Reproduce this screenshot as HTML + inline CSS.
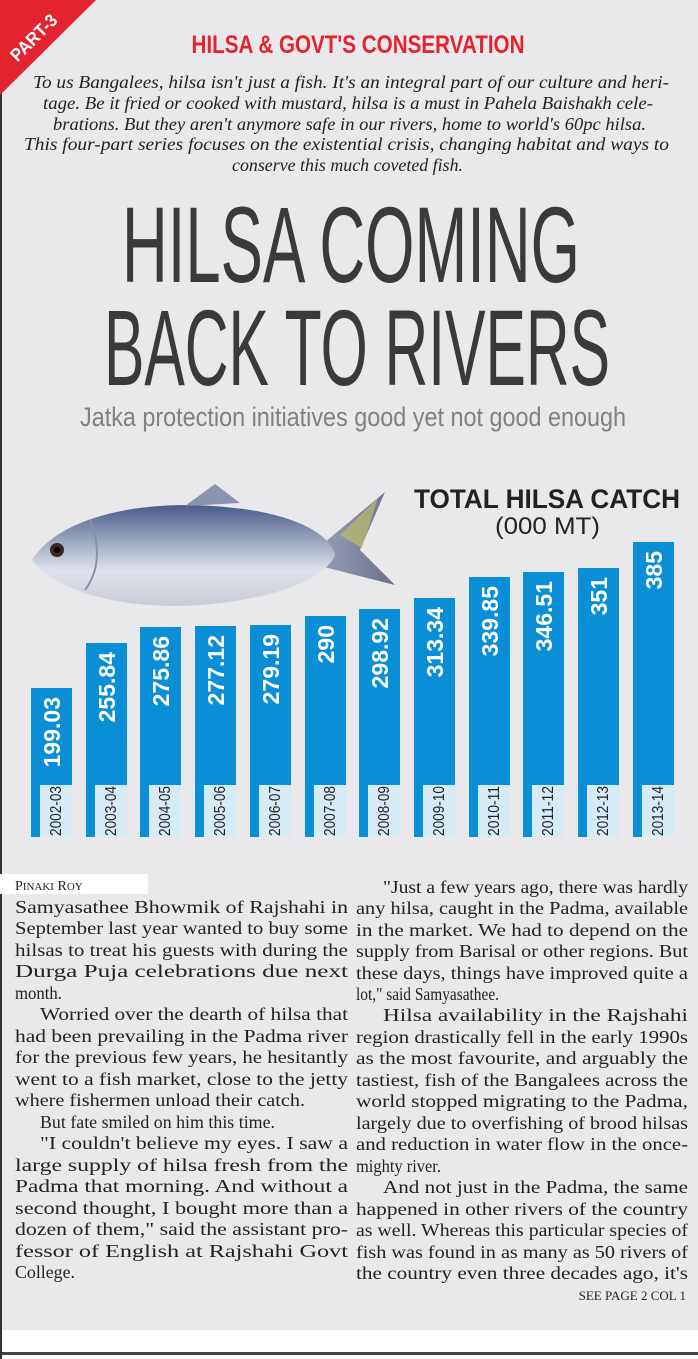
<!DOCTYPE html>
<html><head><meta charset="utf-8"><style>
html,body{margin:0;padding:0;background:#fff}
svg{display:block}
</style></head><body>
<svg width="698" height="1359" viewBox="0 0 698 1359" xmlns="http://www.w3.org/2000/svg">
<defs>
<linearGradient id="fb" x1="0" y1="0" x2="0" y2="1">
<stop offset="0" stop-color="#4a5a8a"/><stop offset="0.35" stop-color="#9aa6bf"/><stop offset="0.65" stop-color="#dfe2ea"/><stop offset="1" stop-color="#c9ccd6"/>
</linearGradient>
<linearGradient id="ft" x1="0" y1="0" x2="1" y2="0">
<stop offset="0" stop-color="#9aa0b8"/><stop offset="1" stop-color="#6b7088"/>
</linearGradient>
</defs>
<rect x="0" y="0" width="698" height="1330" fill="#e9e9eb"/>
<rect x="0" y="1352" width="698" height="3" fill="#444"/>
<rect x="0" y="0" width="2" height="1359" fill="#333"/>
<polygon points="0,0 96,0 0,95" fill="#e3232e"/>
<text x="0" y="0" transform="translate(38,42) rotate(-45)" font-family="Liberation Sans, sans-serif" font-weight="bold" font-size="18" fill="#fff" text-anchor="middle" textLength="58" lengthAdjust="spacingAndGlyphs">PART-3</text>
<text x="358" y="53" font-family="Liberation Sans, sans-serif" font-weight="bold" font-size="25" fill="#e3232e" text-anchor="middle" textLength="333" lengthAdjust="spacingAndGlyphs">HILSA &amp; GOVT'S CONSERVATION</text>
<g font-family="Liberation Serif, serif" font-style="italic" font-size="18" fill="#222">
<text x="33" y="88" textLength="636" lengthAdjust="spacingAndGlyphs">To us Bangalees, hilsa isn't just a fish. It's an integral part of our culture and heri-</text>
<text x="43" y="109" textLength="610" lengthAdjust="spacingAndGlyphs">tage. Be it fried or cooked with mustard, hilsa is a must in Pahela Baishakh cele-</text>
<text x="53" y="130" textLength="593" lengthAdjust="spacingAndGlyphs">brations. But they aren't anymore safe in our rivers, home to world's 60pc hilsa.</text>
<text x="24" y="150" textLength="645" lengthAdjust="spacingAndGlyphs">This four-part series focuses on the existential crisis, changing  habitat and ways to</text>
<text x="232" y="171" textLength="231" lengthAdjust="spacingAndGlyphs">conserve this much coveted fish.</text>
</g>
<g font-family="Liberation Sans, sans-serif" fill="#3a3a3a">
<text x="122" y="282" font-size="108" textLength="458" lengthAdjust="spacingAndGlyphs">HILSA COMING</text>
<text x="104" y="385" font-size="108" textLength="506" lengthAdjust="spacingAndGlyphs">BACK TO RIVERS</text>
<text x="80" y="426" font-size="27" fill="#808080" textLength="546" lengthAdjust="spacingAndGlyphs">Jatka protection initiatives good yet not good enough</text>
</g>
<g>
<polygon points="318,548 385,492 360,550 395,585 320,566" fill="url(#ft)"/>
<polygon points="340,535 378,498 362,548" fill="#c8c860" opacity="0.6"/>
<path d="M32,560 C60,515 150,495 250,510 C300,518 330,535 335,555 C325,580 270,600 200,605 C130,610 60,595 32,560 Z" fill="url(#fb)"/>
<polygon points="185,506 215,484 240,503" fill="#8a93b0"/>
<circle cx="57" cy="550" r="7" fill="#3a2a1a"/>
<circle cx="57" cy="550" r="3" fill="#000"/>
<path d="M90,520 C100,545 100,570 85,590" stroke="#8890a8" stroke-width="2" fill="none"/>
</g>
<g font-family="Liberation Sans, sans-serif" fill="#222" text-anchor="end">
<text x="680" y="508" font-size="27" font-weight="bold" textLength="266" lengthAdjust="spacingAndGlyphs">TOTAL HILSA CATCH</text>
<text x="600" y="534" font-size="24" textLength="105" lengthAdjust="spacingAndGlyphs">(000 MT)</text>
</g>
<g font-family="Liberation Sans, sans-serif">
<rect x="31" y="688" width="41" height="149" fill="#0a8fd6"/>
<rect x="86" y="643" width="41" height="194" fill="#0a8fd6"/>
<rect x="140" y="627" width="41" height="210" fill="#0a8fd6"/>
<rect x="195" y="626" width="41" height="211" fill="#0a8fd6"/>
<rect x="250" y="625" width="41" height="212" fill="#0a8fd6"/>
<rect x="305" y="616" width="41" height="221" fill="#0a8fd6"/>
<rect x="359" y="609" width="41" height="228" fill="#0a8fd6"/>
<rect x="414" y="598" width="41" height="239" fill="#0a8fd6"/>
<rect x="469" y="577" width="41" height="260" fill="#0a8fd6"/>
<rect x="523" y="572" width="41" height="265" fill="#0a8fd6"/>
<rect x="578" y="568" width="41" height="269" fill="#0a8fd6"/>
<rect x="633" y="542" width="41" height="295" fill="#0a8fd6"/>
<g fill="#d7ebf7">
<rect x="40" y="785" width="32" height="52"/><rect x="95" y="785" width="32" height="52"/>
<rect x="149" y="785" width="32" height="52"/><rect x="204" y="785" width="32" height="52"/>
<rect x="259" y="785" width="32" height="52"/><rect x="314" y="785" width="32" height="52"/>
<rect x="368" y="785" width="32" height="52"/><rect x="423" y="785" width="32" height="52"/>
<rect x="478" y="785" width="32" height="52"/><rect x="532" y="785" width="32" height="52"/>
<rect x="587" y="785" width="32" height="52"/><rect x="642" y="785" width="32" height="52"/>
</g>
<g fill="#222" font-size="16" text-anchor="middle">
<text transform="translate(61,811) rotate(-90)" textLength="50" lengthAdjust="spacingAndGlyphs">2002-03</text>
<text transform="translate(116,811) rotate(-90)" textLength="50" lengthAdjust="spacingAndGlyphs">2003-04</text>
<text transform="translate(170,811) rotate(-90)" textLength="50" lengthAdjust="spacingAndGlyphs">2004-05</text>
<text transform="translate(225,811) rotate(-90)" textLength="50" lengthAdjust="spacingAndGlyphs">2005-06</text>
<text transform="translate(280,811) rotate(-90)" textLength="50" lengthAdjust="spacingAndGlyphs">2006-07</text>
<text transform="translate(335,811) rotate(-90)" textLength="50" lengthAdjust="spacingAndGlyphs">2007-08</text>
<text transform="translate(389,811) rotate(-90)" textLength="50" lengthAdjust="spacingAndGlyphs">2008-09</text>
<text transform="translate(444,811) rotate(-90)" textLength="50" lengthAdjust="spacingAndGlyphs">2009-10</text>
<text transform="translate(499,811) rotate(-90)" textLength="50" lengthAdjust="spacingAndGlyphs">2010-11</text>
<text transform="translate(553,811) rotate(-90)" textLength="50" lengthAdjust="spacingAndGlyphs">2011-12</text>
<text transform="translate(608,811) rotate(-90)" textLength="50" lengthAdjust="spacingAndGlyphs">2012-13</text>
<text transform="translate(663,811) rotate(-90)" textLength="50" lengthAdjust="spacingAndGlyphs">2013-14</text>
</g>
<g fill="#fff" font-size="23" font-weight="bold" text-anchor="end">
<text transform="translate(60,697) rotate(-90)">199.03</text>
<text transform="translate(115,652) rotate(-90)">255.84</text>
<text transform="translate(169,636) rotate(-90)">275.86</text>
<text transform="translate(224,635) rotate(-90)">277.12</text>
<text transform="translate(279,634) rotate(-90)">279.19</text>
<text transform="translate(334,625) rotate(-90)">290</text>
<text transform="translate(388,618) rotate(-90)">298.92</text>
<text transform="translate(443,607) rotate(-90)">313.34</text>
<text transform="translate(498,586) rotate(-90)">339.85</text>
<text transform="translate(552,581) rotate(-90)">346.51</text>
<text transform="translate(607,577) rotate(-90)">351</text>
<text transform="translate(662,551) rotate(-90)">385</text>
</g>
</g>
<rect x="0" y="874" width="148" height="20" fill="#fff"/>
<text x="15" y="890" font-family="Liberation Serif, serif" font-size="14" fill="#222">P<tspan font-size="11">INAKI</tspan> R<tspan font-size="11">OY</tspan></text>
<g font-family="Liberation Serif, serif" font-size="18" fill="#222">
<text x="15" y="913" textLength="333" lengthAdjust="spacingAndGlyphs">Samyasathee Bhowmik of Rajshahi in</text>
<text x="15" y="934" textLength="333" lengthAdjust="spacingAndGlyphs">September last year wanted to buy some</text>
<text x="15" y="956" textLength="333" lengthAdjust="spacingAndGlyphs">hilsas to treat his guests with during the</text>
<text x="15" y="977" textLength="333" lengthAdjust="spacingAndGlyphs">Durga Puja celebrations due next</text>
<text x="15" y="999" textLength="47" lengthAdjust="spacingAndGlyphs">month.</text>
<text x="40" y="1020" textLength="308" lengthAdjust="spacingAndGlyphs">Worried over the dearth of hilsa that</text>
<text x="15" y="1042" textLength="333" lengthAdjust="spacingAndGlyphs">had been prevailing in the Padma river</text>
<text x="15" y="1063" textLength="333" lengthAdjust="spacingAndGlyphs">for the previous few years, he hesitantly</text>
<text x="15" y="1085" textLength="333" lengthAdjust="spacingAndGlyphs">went to a fish market, close to the jetty</text>
<text x="15" y="1106" textLength="290" lengthAdjust="spacingAndGlyphs">where fishermen unload their catch.</text>
<text x="40" y="1128" textLength="235" lengthAdjust="spacingAndGlyphs">But fate smiled on him this time.</text>
<text x="40" y="1149" textLength="308" lengthAdjust="spacingAndGlyphs">"I couldn't believe my eyes. I saw a</text>
<text x="15" y="1171" textLength="333" lengthAdjust="spacingAndGlyphs">large supply of hilsa fresh from the</text>
<text x="15" y="1192" textLength="333" lengthAdjust="spacingAndGlyphs">Padma that morning. And without a</text>
<text x="15" y="1214" textLength="333" lengthAdjust="spacingAndGlyphs">second thought, I bought more than a</text>
<text x="15" y="1235" textLength="333" lengthAdjust="spacingAndGlyphs">dozen of them," said the assistant pro-</text>
<text x="15" y="1257" textLength="333" lengthAdjust="spacingAndGlyphs">fessor of English at Rajshahi Govt</text>
<text x="15" y="1278" textLength="60" lengthAdjust="spacingAndGlyphs">College.</text>

<text x="383" y="893" textLength="305" lengthAdjust="spacingAndGlyphs">"Just a few years ago, there was hardly</text>
<text x="356" y="914" textLength="332" lengthAdjust="spacingAndGlyphs">any hilsa, caught in the Padma, available</text>
<text x="356" y="936" textLength="332" lengthAdjust="spacingAndGlyphs">in the market. We had to depend on the</text>
<text x="356" y="957" textLength="332" lengthAdjust="spacingAndGlyphs">supply from Barisal or other regions. But</text>
<text x="356" y="979" textLength="332" lengthAdjust="spacingAndGlyphs">these days, things have improved quite a</text>
<text x="356" y="1000" textLength="143" lengthAdjust="spacingAndGlyphs">lot," said Samyasathee.</text>
<text x="383" y="1021" textLength="305" lengthAdjust="spacingAndGlyphs">Hilsa availability in the Rajshahi</text>
<text x="356" y="1043" textLength="332" lengthAdjust="spacingAndGlyphs">region drastically fell in the early 1990s</text>
<text x="356" y="1064" textLength="332" lengthAdjust="spacingAndGlyphs">as the most favourite, and arguably the</text>
<text x="356" y="1086" textLength="332" lengthAdjust="spacingAndGlyphs">tastiest, fish of the Bangalees across the</text>
<text x="356" y="1107" textLength="332" lengthAdjust="spacingAndGlyphs">world stopped migrating to the Padma,</text>
<text x="356" y="1129" textLength="332" lengthAdjust="spacingAndGlyphs">largely due to overfishing of brood hilsas</text>
<text x="356" y="1150" textLength="332" lengthAdjust="spacingAndGlyphs">and reduction in water flow in the once-</text>
<text x="356" y="1172" textLength="85" lengthAdjust="spacingAndGlyphs">mighty river.</text>
<text x="383" y="1193" textLength="305" lengthAdjust="spacingAndGlyphs">And not just in the Padma, the same</text>
<text x="356" y="1215" textLength="332" lengthAdjust="spacingAndGlyphs">happened in other rivers of the country</text>
<text x="356" y="1236" textLength="332" lengthAdjust="spacingAndGlyphs">as well. Whereas this particular species of</text>
<text x="356" y="1258" textLength="332" lengthAdjust="spacingAndGlyphs">fish was found in as many as 50 rivers of</text>
<text x="356" y="1279" textLength="332" lengthAdjust="spacingAndGlyphs">the country even three decades ago, it's</text>
<text x="686" y="1300" font-size="13" text-anchor="end">SEE PAGE 2 COL 1</text>
</g>
</svg>
</body></html>
